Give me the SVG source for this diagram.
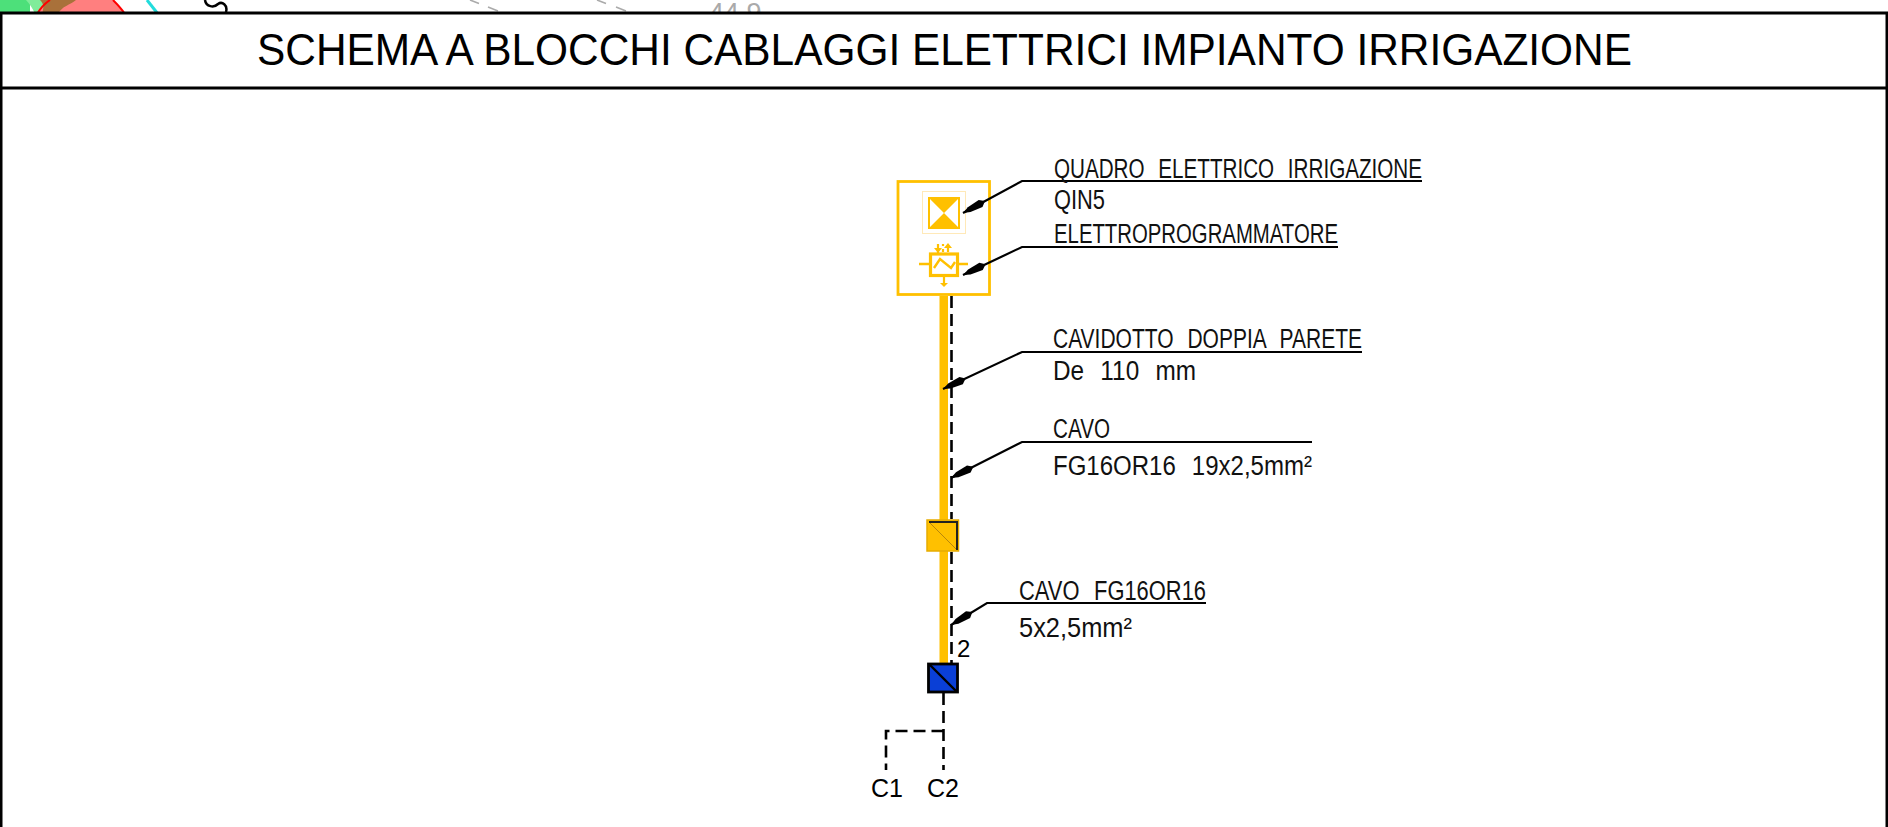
<svg xmlns="http://www.w3.org/2000/svg" width="1888" height="827" viewBox="0 0 1888 827">
<style>
.lb{font-family:"Liberation Sans Narrow","Liberation Sans",Arial,sans-serif;font-size:27px;fill:#111;word-spacing:1.500px}
.ar{font-family:"Liberation Sans",Arial,sans-serif;fill:#000}
.leader{fill:none;stroke:#000;stroke-width:2.2;marker-end:url(#arrow)}
.dash{fill:none;stroke:#000;stroke-width:2.6;stroke-dasharray:12 6}
.y{fill:#FFC000}
.ys{fill:none;stroke:#FFC000}
.g{fill:none;stroke:#aaa;stroke-width:1.6}
</style>
<defs>
<marker id="arrow" markerUnits="userSpaceOnUse" markerWidth="30" markerHeight="14" refX="26" refY="7" orient="auto">
<path d="M1 7 L6 3 L19 4.200 L26 7 L19 9.800 L6 11Z" fill="#000"/>
</marker>
</defs>
<rect width="1888" height="827" fill="#fff"/>
<g id="background">
<path d="M0 0H30V14H0Z" fill="#4de07a"/>
<path d="M26 0C30 4 33 9 35 14H50V0Z" fill="#80ec9a"/>
<path d="M50 0C44 4 40 9 37 14H125C121 8 117 4 113 0Z" fill="#ff7f7f"/>
<path d="M40 0H76C70 5 62 6 58 14H42C44 8 44 4 40 0Z" fill="#a9713a"/>
<path d="M50 0C44 4 40 9 37 14" fill="none" stroke="#f00" stroke-width="2"/>
<path d="M113 0C117 4 121 8 125 14" fill="none" stroke="#f00" stroke-width="2"/>
<path d="M147 0L158 14" stroke="#22dcdc" stroke-width="3" fill="none"/>
<path d="M205 0C206 7 214 8 218 4C222 1 228 5 226 12" stroke="#000" stroke-width="2.5" fill="none"/>
<path class="g" d="M470 0L479 3.500M488 7L498 11"/>
<path class="g" d="M597 0L606 3.500M616 7L626 11"/>
<text x="709" y="22" font-size="27" font-family="Liberation Sans,sans-serif" fill="#aaa">44.9</text>
</g>
<g id="frame">
<rect x="1" y="13" width="1886" height="830" fill="#fff" stroke="#000" stroke-width="3"/>
<path d="M1 88H1887" stroke="#000" stroke-width="3"/>
</g>
<g id="title"><text class="ar" x="257" y="65" font-size="44" textLength="1375" lengthAdjust="spacingAndGlyphs">SCHEMA A BLOCCHI CABLAGGI ELETTRICI IMPIANTO IRRIGAZIONE</text></g>
<g id="quadro">
<rect x="898" y="181.500" width="91.500" height="113" fill="#fff" stroke="#FFC000" stroke-width="2.800"/>
<rect x="922.500" y="191.500" width="43" height="42" fill="none" stroke="#FFE9B8" stroke-width="1"/>
<rect x="928" y="197" width="32" height="32" class="y"/>
<path d="M930 199V227L944 213ZM958 199V227L944 213Z" fill="#fff"/>
</g>
<g id="elettroprogrammatore">
<rect x="930.500" y="254" width="27" height="21.500" fill="#fff" stroke="#FFC000" stroke-width="3.200"/>
<path class="ys" stroke-width="2.400" d="M919 264H930M958 264H968M934 268L940 259L951 268L955 262"/>
<path class="ys" stroke-width="2.200" d="M938 244V253M948 245V252M943 244V246M943 249V252M944 276V284"/>
<path class="y" d="M934 248H942L938 253ZM944 248H952L948 243ZM940 283H948L944 287Z"/>
</g>
<g id="connectors">
<rect class="y" x="939.500" y="296" width="8.500" height="367"/>
<path class="dash" d="M951.500 296V519M951.500 552V663"/>
<path class="dash" d="M943.500 693V770M943.500 731H886V770"/>
<path class="leader" d="M1422 181H1022L963 213"/>
<path class="leader" d="M1338 247H1022L963 275"/>
<path class="leader" d="M1362 352H1022L943 389"/>
<path class="leader" d="M1312 442H1022L951 478"/>
<path class="leader" d="M1206 603H987L951 625"/>
</g>
<g id="giunzione-gialla">
<rect x="927" y="520" width="31.500" height="31" fill="#FFC000" stroke="#E6AC00" stroke-width="1.500"/>
<path d="M929 522L957 550" stroke="#b8860b" stroke-width="1" fill="none"/>
<path d="M929 522H957V550" stroke="#222" stroke-width="2" fill="none"/>
</g>
<g id="giunzione-blu">
<rect x="928.500" y="664" width="29" height="28" fill="#0A3FD6" stroke="#000" stroke-width="2.800"/>
<path d="M929 664L957 692" stroke="#000" stroke-width="2.400" fill="none"/>
</g>
<g id="labels">
<text class="lb" x="1054" y="178" textLength="368" lengthAdjust="spacingAndGlyphs" xml:space="preserve">QUADRO  ELETTRICO  IRRIGAZIONE</text>
<text class="lb" x="1054" y="209" textLength="51" lengthAdjust="spacingAndGlyphs">QIN5</text>
<text class="lb" x="1054" y="243" textLength="284" lengthAdjust="spacingAndGlyphs">ELETTROPROGRAMMATORE</text>
<text class="lb" x="1053" y="348" textLength="309" lengthAdjust="spacingAndGlyphs" xml:space="preserve">CAVIDOTTO  DOPPIA  PARETE</text>
<text class="lb" x="1053" y="380" textLength="143" lengthAdjust="spacingAndGlyphs" xml:space="preserve">De  110  mm</text>
<text class="lb" x="1053" y="438" textLength="57" lengthAdjust="spacingAndGlyphs">CAVO</text>
<text class="lb" x="1053" y="475" textLength="259" lengthAdjust="spacingAndGlyphs" xml:space="preserve">FG16OR16  19x2,5mm²</text>
<text class="lb" x="1019" y="600" textLength="187" lengthAdjust="spacingAndGlyphs" xml:space="preserve">CAVO  FG16OR16</text>
<text class="lb" x="1019" y="637" textLength="113" lengthAdjust="spacingAndGlyphs">5x2,5mm²</text>
<text class="ar" x="957" y="657" font-size="24">2</text>
<text class="ar" x="871" y="797" font-size="25">C1</text>
<text class="ar" x="927" y="797" font-size="25">C2</text>
</g>
</svg>
